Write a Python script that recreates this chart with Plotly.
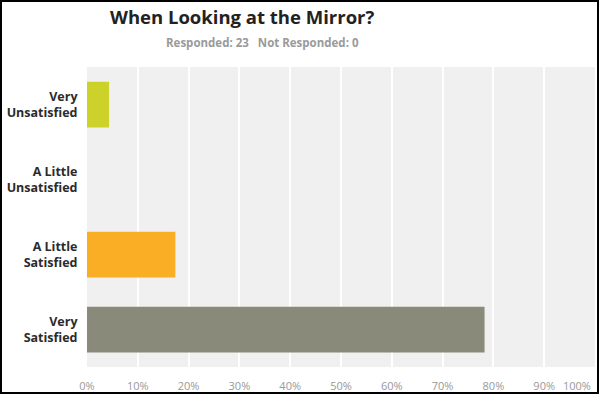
import plotly.graph_objects as go

categories = ["Very<br>Unsatisfied", "A Little<br>Unsatisfied", "A Little<br>Satisfied", "Very<br>Satisfied"]
percent_values = [4.35, 0.0, 17.39, 78.26]
bar_colors = ["#cdd22a", "#f9ae25", "#f9ae25", "#8a8a7a"]
x_tick_values = [0, 10, 20, 30, 40, 50, 60, 70, 80, 90]
x_tick_labels = ["0%", "10%", "20%", "30%", "40%", "50%", "60%", "70%", "80%", "90%"]
x_last_value = 100
x_last_label = "100%"
title_text = "When Looking at the Mirror?"
subtitle_text = "Responded: 23&nbsp;&nbsp;&nbsp;Not Responded: 0"

W, H = 600, 395
L, R, T, B = 87, 5, 67, 28
pw, ph = W - L - R, H - T - B

def px_x(p):
    return (p - L) / pw

def px_y(p):
    return (H - B - p) / ph

fig = go.Figure(go.Bar(
    x=percent_values,
    y=categories,
    orientation="h",
    marker=dict(color=bar_colors, line=dict(width=0)),
    width=0.61,
    hoverinfo="skip",
))

fig.update_layout(
    width=W, height=H,
    margin=dict(l=L, r=R, t=T, b=B, autoexpand=False),
    paper_bgcolor="white",
    plot_bgcolor="#f0f0f0",
    showlegend=False,
    font=dict(family="Open Sans, sans-serif"),
    xaxis=dict(
        range=[0, 100], tickvals=x_tick_values + [x_last_value], ticktext=x_tick_labels + [""],
        showgrid=True, gridcolor="white", gridwidth=1.5,
        zeroline=False, showline=False, automargin=False,
        ticks="outside", ticklen=9, tickcolor="rgba(0,0,0,0)",
        tickfont=dict(size=11, color="#999999"),
        fixedrange=True,
    ),
    yaxis=dict(
        autorange="reversed", automargin=False,
        showgrid=False, zeroline=False, showline=False,
        ticks="outside", ticklen=6, tickcolor="rgba(0,0,0,0)",
        tickfont=dict(size=12.5, color="#2b2b2b", family="Open Sans, sans-serif", weight="bold"),
        fixedrange=True,
    ),
    annotations=[
        dict(text="<b>" + title_text + "</b>", xref="paper", yref="paper",
             x=px_x(242), y=px_y(17), xanchor="center", yanchor="middle",
             showarrow=False, font=dict(size=18.5, color="#222222")),
        dict(text="<b>" + subtitle_text + "</b>", xref="paper", yref="paper",
             x=px_x(262), y=px_y(43), xanchor="center", yanchor="middle",
             showarrow=False, font=dict(size=11.5, color="#9a9a9a")),
        dict(text=x_last_label, xref="x", yref="paper",
             x=x_last_value, y=px_y(385), xanchor="right", yanchor="middle",
             xshift=-2, showarrow=False, font=dict(size=11, color="#999999")),
    ],
    shapes=[
        dict(type="rect", xref="paper", yref="paper",
             x0=px_x(1), x1=px_x(598), y0=px_y(393), y1=px_y(1),
             line=dict(color="black", width=2), fillcolor="rgba(0,0,0,0)", layer="above"),
    ],
)

fig.write_html("out.html", config={"displayModeBar": False},
               post_script="document.body.style.margin='0px';document.body.style.padding='0px';")
